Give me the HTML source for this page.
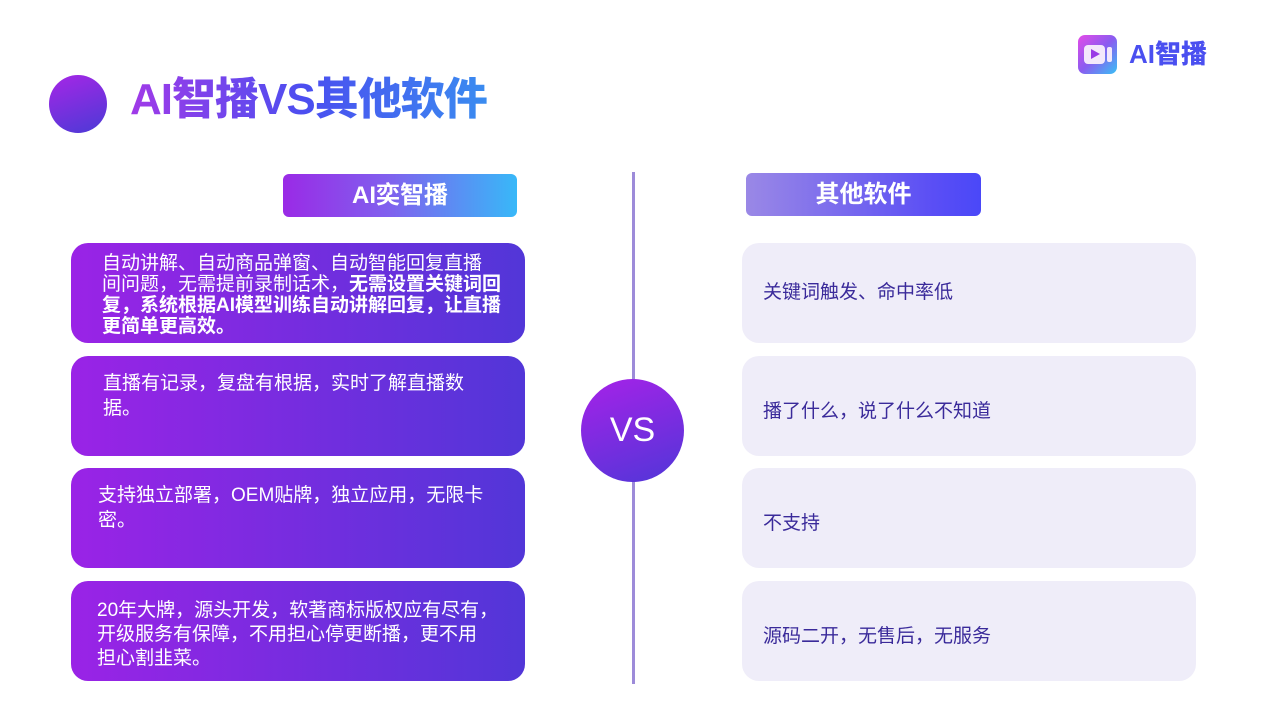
<!DOCTYPE html>
<html><head><meta charset="utf-8"><style>
body{margin:0;width:1280px;height:720px;background:#fff;position:relative;overflow:hidden;font-family:"Liberation Sans","Noto Sans CJK SC",sans-serif}
.a{position:absolute}
.title{left:130px;top:72px;font-size:44px;font-weight:900;line-height:56px;background:linear-gradient(90deg,#a13ae8,#4a4ff0 50%,#3a8cf0);-webkit-background-clip:text;background-clip:text;color:transparent;letter-spacing:-1px}
.lb{left:71px;width:454px;height:100px;border-radius:17px;background:linear-gradient(90deg,#9a23e6,#5236d8);color:#fff;font-size:19px;line-height:21px;box-sizing:border-box;white-space:nowrap}
.rb{left:742px;width:454px;height:100px;border-radius:17px;background:#efedf9;color:#3a2a9a;font-size:19px;box-sizing:border-box;padding-left:21px}
.hd{height:43px;border-radius:6px;color:#fff;font-size:24px;font-weight:bold;line-height:43px;text-align:center}
</style></head><body>
<div class="a" style="left:49px;top:75px;width:58px;height:58px;border-radius:50%;background:linear-gradient(160deg,#a626e6,#4b3ad6)"></div>
<div class="a title">AI智播VS其他软件</div>
<div class="a" style="left:1078px;top:35px;width:39px;height:39px;border-radius:7px;background:linear-gradient(135deg,#e44be8,#8a5cf0 50%,#3ac0f5)"></div>
<div class="a" style="left:1084px;top:45px;width:21px;height:19px;border-radius:4px;background:#f3e8fb"></div>
<div class="a" style="left:1091px;top:49px;width:0;height:0;border-left:9px solid #9a3ae6;border-top:5.5px solid transparent;border-bottom:5.5px solid transparent"></div>
<div class="a" style="left:1107px;top:47px;width:5px;height:15px;border-radius:2px;background:#f3e8fb"></div>
<div class="a" style="left:1129px;top:37px;font-size:26px;font-weight:900;color:#4a4ff0;line-height:34px">AI智播</div>
<div class="a hd" style="left:283px;top:174px;width:234px;background:linear-gradient(90deg,#9a2ae6,#8060ee 45%,#38b8f8)">AI奕智播</div>
<div class="a hd" style="left:746px;top:173px;width:235px;background:linear-gradient(90deg,#9a88e6,#5a4ef5 80%,#4a48f8)">其他软件</div>
<div class="a" style="left:632px;top:172px;width:3px;height:512px;background:#9d8bd9"></div>
<div class="a" style="left:581px;top:379px;width:103px;height:103px;border-radius:50%;background:linear-gradient(160deg,#a622e8,#5136d8);color:#fff;font-size:34px;line-height:103px;text-align:center">VS</div>
<div class="a lb" style="top:243px;padding:10px 0 0 31px">自动讲解、自动商品弹窗、自动智能回复直播<br>间问题，无需提前录制话术，<b>无需设置关键词回<br>复，系统根据AI模型训练自动讲解回复，让直播<br>更简单更高效。</b></div>
<div class="a lb" style="top:356px;padding:15px 0 0 32px;line-height:25px">直播有记录，复盘有根据，实时了解直播数<br>据。</div>
<div class="a lb" style="top:468px;padding:15px 0 0 27px;line-height:25px">支持独立部署，OEM贴牌，独立应用，无限卡<br>密。</div>
<div class="a lb" style="top:581px;padding:18px 0 0 26px;line-height:24px">20年大牌，源头开发，软著商标版权应有尽有，<br>开级服务有保障，不用担心停更断播，更不用<br>担心割韭菜。</div>
<div class="a rb" style="top:243px;line-height:100px">关键词触发、命中率低</div>
<div class="a rb" style="top:356px;line-height:112px">播了什么，说了什么不知道</div>
<div class="a rb" style="top:468px;line-height:112px">不支持</div>
<div class="a rb" style="top:581px;line-height:112px">源码二开，无售后，无服务</div>
</body></html>
